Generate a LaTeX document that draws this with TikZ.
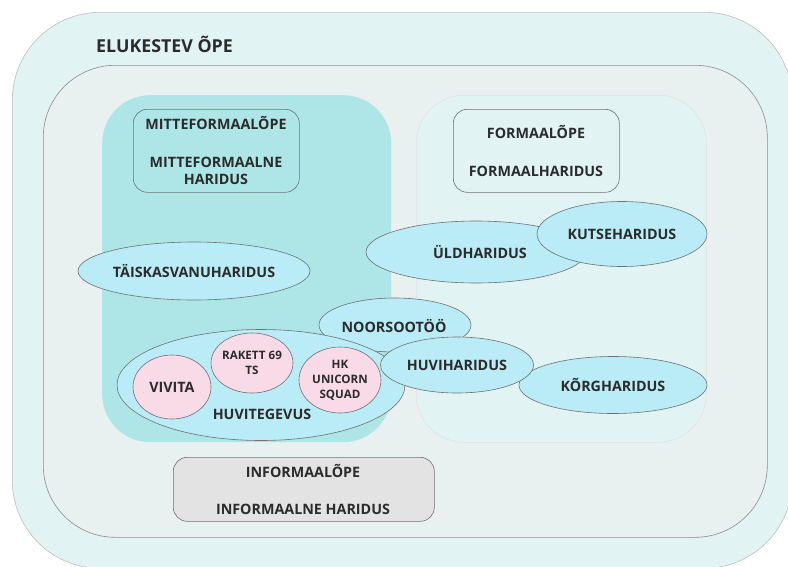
\documentclass[tikz,border=0pt]{standalone}
\usepackage{fontspec}
\setmainfont{Open Sans}
\usetikzlibrary{shapes.geometric}
\definecolor{outerfill}{HTML}{E1F3F3}
\definecolor{midfill}{HTML}{E9F0F0}
\definecolor{tealfill}{HTML}{AEE6E7}
\definecolor{formfill}{HTML}{E2F3F4}
\definecolor{ellfill}{HTML}{B9ECF6}
\definecolor{pinkfill}{HTML}{F8DBE6}
\definecolor{greyfill}{HTML}{E3E3E3}
\definecolor{txt}{HTML}{2B2B2B}
\definecolor{edge}{HTML}{707070}
\tikzset{
  area/.style={rectangle, inner sep=0pt, anchor=north west},
  lbl/.style={font=\bfseries\fontsize{14.3}{16.5}\selectfont, text=txt, align=center, inner sep=0pt},
  smalllbl/.style={font=\bfseries\fontsize{11.6}{15}\selectfont, text=txt, align=center, inner sep=0pt},
  oval/.style={ellipse, draw=edge, line width=0.6pt, fill=ellfill, inner sep=0pt},
  pinkoval/.style={ellipse, draw=edge, line width=0.6pt, fill=pinkfill, inner sep=0pt},
  titlebox/.style={rectangle, rounded corners=14pt, draw=edge, line width=0.6pt, inner sep=0pt, anchor=north west},
}
\begin{document}
\begin{tikzpicture}[x=1pt,y=-1pt]
\useasboundingbox (0,0) rectangle (788,566);
% outer areas
\node[area, draw=black!25, line width=0.6pt, fill=outerfill, rounded corners=88pt, minimum width=780pt, minimum height=556pt] (outer) at (12,12) {};
\node[area, draw=black!45, line width=0.6pt, fill=midfill, rounded corners=72pt, minimum width=724pt, minimum height=472pt] (mid) at (43,65) {};
\node[area, fill=tealfill, rounded corners=48pt, minimum width=289pt, minimum height=347pt] (teal) at (102,95) {};
\node[area, draw=black!12, line width=0.5pt, fill=formfill, rounded corners=48pt, minimum width=290pt, minimum height=347pt] (formal) at (416,95) {};
\node[lbl, font=\bfseries\fontsize{17.8}{20}\selectfont, anchor=west] (title) at (96,44) {ELUKESTEV ÕPE};
% title boxes
\node[titlebox, fill=tealfill, minimum width=166pt, minimum height=83pt] (mfbox) at (133,109) {};
\node[lbl] (mf1) at (216,123) {MITTEFORMAALÕPE};
\node[lbl] (mf2) at (216,171) {MITTEFORMAALNE\\HARIDUS};
\node[titlebox, fill=formfill, minimum width=166pt, minimum height=83pt] (fbox) at (453,109) {};
\node[lbl] (f1) at (536,132) {FORMAALÕPE};
\node[lbl] (f2) at (536,171) {FORMAALHARIDUS};
\node[titlebox, fill=greyfill, minimum width=261pt, minimum height=64pt] (ibox) at (173,457) {};
\node[lbl] (i1) at (303,471) {INFORMAALÕPE};
\node[lbl] (i2) at (303,509) {INFORMAALNE HARIDUS};
% ellipses
\node[oval, minimum width=232pt, minimum height=58pt] (taisk) at (194,271) {};
\node[lbl] at (taisk) {TÄISKASVANUHARIDUS};
\node[oval, minimum width=220pt, minimum height=62pt] (uld) at (476,252) {};
\node[lbl] at (480,252) {ÜLDHARIDUS};
\node[oval, minimum width=170pt, minimum height=65pt] (kutse) at (622,234) {};
\node[lbl] at (kutse) {KUTSEHARIDUS};
\node[oval, minimum width=152pt, minimum height=54pt] (noor) at (395,325) {};
\node[lbl] at (394,326) {NOORSOOTÖÖ};
\node[oval, minimum width=288pt, minimum height=111pt] (huvit) at (261,385) {};
\node[lbl] at (262,414) {HUVITEGEVUS};
\node[pinkoval, minimum width=78pt, minimum height=64pt] (vivita) at (172,387) {};
\node[lbl] at (vivita) {VIVITA};
\node[pinkoval, minimum width=82pt, minimum height=60pt] (rakett) at (252,363) {};
\node[smalllbl] at (rakett) {RAKETT 69\\TS};
\node[pinkoval, minimum width=82pt, minimum height=66pt] (hk) at (340,380) {};
\node[smalllbl] at (hk) {HK\\UNICORN\\SQUAD};
\node[oval, minimum width=188pt, minimum height=57pt] (korg) at (613,385) {};
\node[lbl] at (613,385) {KÕRGHARIDUS};
\node[oval, minimum width=153pt, minimum height=56pt] (huvih) at (457,365) {};
\node[lbl] at (huvih) {HUVIHARIDUS};
\end{tikzpicture}
\end{document}
